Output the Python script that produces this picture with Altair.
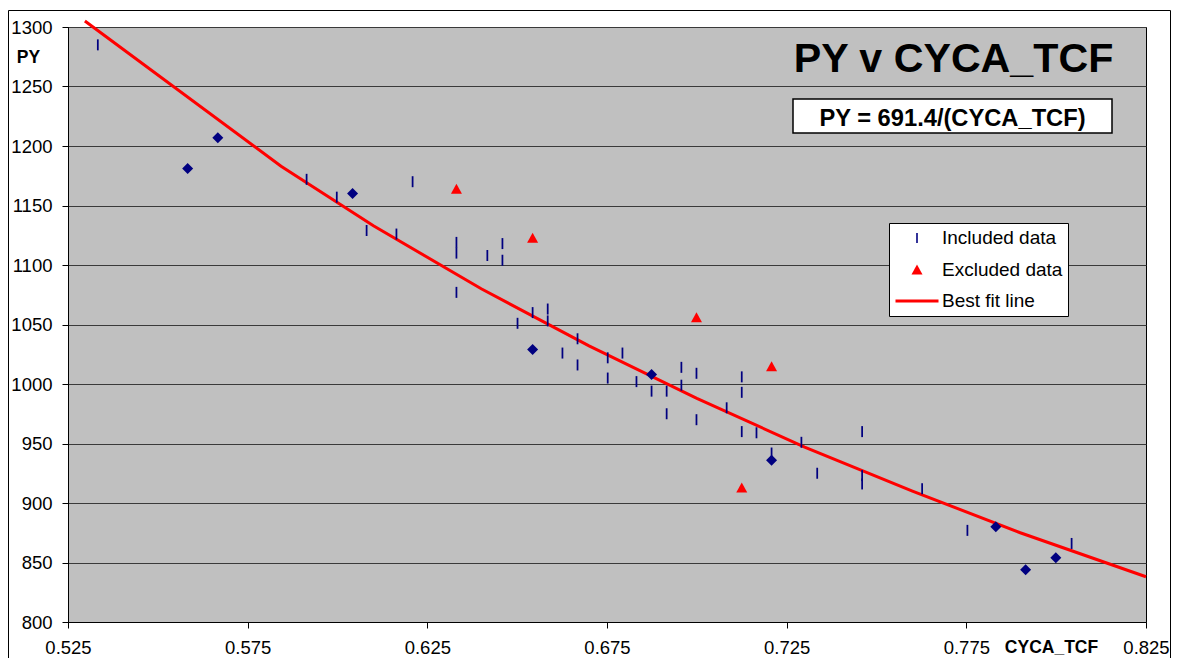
import altair as alt
import pandas as pd

TITLE = "PY v CYCA_TCF"
EQUATION = "PY = 691.4/(CYCA_TCF)"
X_TITLE = "CYCA_TCF"
Y_TITLE = "PY"
SERIES = ["Included data", "Excluded data", "Best fit line"]

# Included data (navy dashes)
INC_X = [0.5333, 0.5914, 0.5998, 0.6081, 0.6164, 0.6209, 0.6331, 0.6331, 0.6331,
         0.6417, 0.6459, 0.6459, 0.6501, 0.6543, 0.6585, 0.6585, 0.6626, 0.6668,
         0.6668, 0.6752, 0.6752, 0.6793, 0.6832, 0.6874, 0.6916, 0.6916, 0.6957,
         0.6957, 0.6999, 0.6999, 0.7083, 0.7125, 0.7125, 0.7125, 0.7166, 0.7208,
         0.7291, 0.7335, 0.7460, 0.7460, 0.7460, 0.7627, 0.7753, 0.8043]
INC_Y = [1285, 1172, 1157, 1129, 1126, 1170, 1119, 1110, 1077,
         1108, 1118, 1104, 1051, 1060, 1063, 1053, 1026, 1038,
         1016, 1022, 1005, 1026, 1002, 994, 994, 975, 1014,
         999, 1009, 970, 980, 1006, 993, 960, 959, 942,
         951, 925, 960, 923, 916, 912, 877, 866]

# Excluded data (red triangles)
EXC_X = [0.6331, 0.6543, 0.6999, 0.7208, 0.7125]
EXC_Y = [1164, 1123, 1056, 1015, 913]

# Unlabelled navy diamonds
DIA_X = [0.5583, 0.5667, 0.6042, 0.6543, 0.6874, 0.7208, 0.7832, 0.7915, 0.7999]
DIA_Y = [1181, 1207, 1160, 1029, 1008, 936, 880, 844, 854]

# Best fit line vertices
FIT_X = [0.5297, 0.5843, 0.61, 0.64, 0.67, 0.70, 0.73, 0.76, 0.79, 0.825]
FIT_Y = [1305, 1183, 1133, 1080, 1032, 988, 947, 910, 875, 838]

X_TICKS = [0.525, 0.575, 0.625, 0.675, 0.725, 0.775, 0.825]
Y_TICKS = [800, 850, 900, 950, 1000, 1050, 1100, 1150, 1200, 1250, 1300]

W, H = 1078, 595
FONT = "Liberation Sans"
NAVY = "#000080"
RED = "#FF0000"

pts = pd.DataFrame({
    "x": INC_X + EXC_X,
    "y": INC_Y + EXC_Y,
    "series": [SERIES[0]] * len(INC_X) + [SERIES[1]] * len(EXC_X),
})
dia = pd.DataFrame({"x": DIA_X, "y": DIA_Y})
fit = pd.DataFrame({"x": FIT_X, "y": FIT_Y})

xscale = alt.Scale(domain=[X_TICKS[0], X_TICKS[-1]], nice=False, zero=False)
yscale = alt.Scale(domain=[Y_TICKS[0], Y_TICKS[-1]], nice=False, zero=False)
xaxis = alt.Axis(values=X_TICKS, format=".3f", grid=False, title=X_TITLE,
                 titleAngle=0, titleX=983, titleY=30, titleAlign="center",
                 titleBaseline="alphabetic", labelBaseline="alphabetic",
                 labelPadding=25, labelFlush=False)
yaxis = alt.Axis(values=Y_TICKS, format="d", grid=True, title=Y_TITLE,
                 titleAngle=0, titleX=-40, titleY=35, titleAlign="center",
                 titleBaseline="alphabetic", labelPadding=10)

X = alt.X("x:Q", scale=xscale, axis=xaxis)
Y = alt.Y("y:Q", scale=yscale, axis=yaxis)

DASH = "M-0.08,-0.5L0.08,-0.5L0.08,0.5L-0.08,0.5Z"
TRI = "M0,-0.5L0.55,0.5L-0.55,0.5Z"
LINE = "M-2.15,-0.14L2.15,-0.14L2.15,0.14L-2.15,0.14Z"

legend = alt.Legend(title=None, orient="none", legendX=821, legendY=196,
                    fillColor="white", strokeColor="black", padding=5,
                    symbolSize=400, symbolOffset=13, labelOffset=15,
                    rowPadding=11.5, labelFont=FONT, labelFontSize=19,
                    labelColor="black", symbolStrokeWidth=0)
color = alt.Color("series:N", scale=alt.Scale(domain=SERIES, range=[NAVY, RED, RED]),
                  legend=legend)
shape = alt.Shape("series:N", scale=alt.Scale(domain=SERIES, range=[DASH, TRI, LINE]),
                  legend=legend)

one = pd.DataFrame({"t": [TITLE]})

frame = alt.Chart(one).mark_rect(fillOpacity=0, stroke="black", strokeWidth=1).encode(
    x=alt.value(-59.5), x2=alt.value(1102.5), y=alt.value(-16.5), y2=alt.value(660))

line = alt.Chart(fit).mark_line(color=RED, strokeWidth=3).encode(x=X, y=Y)

inc = alt.Chart(pts).transform_filter(alt.datum.series == SERIES[0]).mark_point(
    filled=True, opacity=1, size=484, strokeWidth=0).encode(x=X, y=Y, color=color, shape=shape)
exc = alt.Chart(pts).transform_filter(alt.datum.series == SERIES[1]).mark_point(
    filled=True, opacity=1, size=400, strokeWidth=0).encode(x=X, y=Y, color=color, shape=shape)
dias = alt.Chart(dia).mark_point(shape="diamond", filled=True, size=121, color=NAVY,
                                 opacity=1, strokeWidth=0).encode(x=X, y=Y)

title = alt.Chart(one).mark_text(font=FONT, fontWeight="bold", fontSize=41.2, align="center",
                                 baseline="alphabetic", color="black").encode(
    x=alt.value(885.5), y=alt.value(45), text="t:N")
eqbox = alt.Chart(one).mark_rect(fill="white", stroke="black", strokeWidth=1.5).encode(
    x=alt.value(725), x2=alt.value(1044), y=alt.value(72), y2=alt.value(106))
eqtext = alt.Chart(pd.DataFrame({"t": [EQUATION]})).mark_text(
    font=FONT, fontWeight="bold", fontSize=23.7, align="center", baseline="alphabetic",
    color="black").encode(x=alt.value(884.5), y=alt.value(99), text="t:N")

chart = alt.layer(frame, line, dias, inc, exc, title, eqbox, eqtext).properties(
    width=W, height=H,
    autosize=alt.AutoSizeParams(type="none"),
    padding={"left": 60, "top": 19, "right": 25, "bottom": 36},
).configure_view(
    fill="#C0C0C0", stroke="black", strokeWidth=1
).configure_axis(
    labelFont=FONT, labelFontSize=18.5, labelColor="black",
    titleFont=FONT, titleFontSize=17.5, titleFontWeight="bold", titleColor="black",
    tickColor="black", tickSize=6, domainColor="black",
    gridColor="#3a3a3a", gridWidth=1, gridOpacity=1,
)

chart.save("out.html", embed_options={"renderer": "svg", "actions": False})
